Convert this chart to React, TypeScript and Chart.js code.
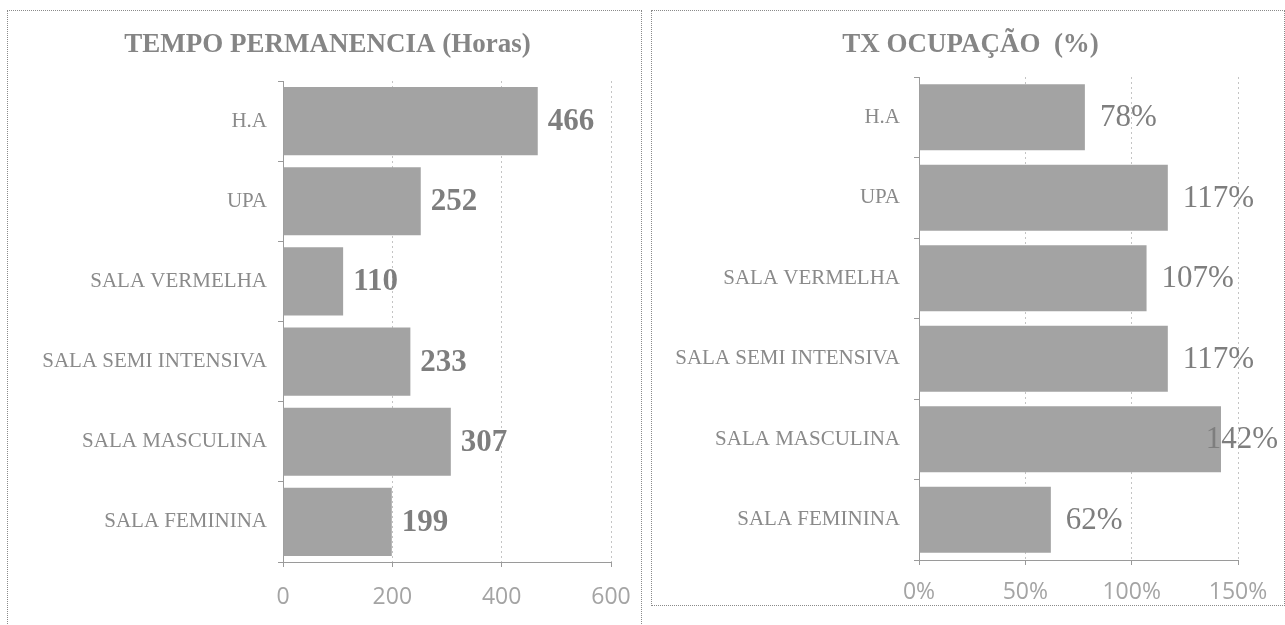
import React, { useEffect, useRef } from "react";
import { Chart, registerables } from "chart.js";

Chart.register(...registerables);

const categories = [
  "H.A",
  "UPA",
  "SALA VERMELHA",
  "SALA SEMI INTENSIVA",
  "SALA MASCULINA",
  "SALA FEMININA",
];
const tempoValues = [466, 252, 110, 233, 307, 199];
const ocupacaoValues = [78, 117, 107, 117, 142, 62];
const tempoTitle = "TEMPO PERMANENCIA (Horas)";
const ocupacaoTitle = "TX OCUPAÇÃO  (%)";
const tempoTicks = { min: 0, max: 600, step: 200 };
const ocupacaoTicks = { min: 0, max: 150, step: 50 };

const valueLabelPlugin = {
  id: "valueLabels",
  afterDatasetsDraw(chart: any, _args: any, opts: any) {
    const { ctx } = chart;
    const meta = chart.getDatasetMeta(0);
    const data = chart.data.datasets[0].data;
    ctx.save();
    ctx.font = opts.font;
    ctx.fillStyle = opts.color;
    ctx.textBaseline = "middle";
    ctx.textAlign = "left";
    meta.data.forEach((bar: any, i: number) => {
      const text = opts.format(data[i]);
      const w = ctx.measureText(text).width;
      let x = bar.x + opts.offset;
      if (x + w > chart.width - opts.edge) x = chart.width - opts.edge - w;
      ctx.fillText(text, x, bar.y + (opts.dy || 0));
    });
    ctx.restore();
  },
};

const centeredTitlePlugin = {
  id: "centeredTitle",
  afterDraw(chart: any, _args: any, opts: any) {
    const { ctx } = chart;
    ctx.save();
    ctx.font = opts.font;
    ctx.fillStyle = opts.color;
    ctx.textAlign = "center";
    ctx.textBaseline = "middle";
    ctx.fillText(opts.text, chart.width / 2 + opts.dx, opts.y);
    ctx.restore();
  },
};

type PanelCfg = {
  title: string;
  values: number[];
  ticks: { min: number; max: number; step: number };
  tickFmt: (v: number) => string;
  valueFmt: (v: number) => string;
  valueFont: string;
  valueOffset: number;
  yWidth: number;
  xHeight: number;
  padRight: number;
  padTop: number;
  yPad: number;
  xPad: number;
  xLineHeight: number;
  barPct: number;
};

function HBar({ cfg, style }: { cfg: PanelCfg; style: React.CSSProperties }) {
  const ref = useRef<HTMLCanvasElement | null>(null);
  useEffect(() => {
    if (!ref.current) return;
    const chart = new Chart(ref.current, {
      type: "bar",
      data: {
        labels: categories,
        datasets: [
          {
            data: cfg.values,
            backgroundColor: "#a3a3a3",
            borderWidth: 0,
            categoryPercentage: 1,
            barPercentage: cfg.barPct,
          },
        ],
      },
      plugins: [valueLabelPlugin as any, centeredTitlePlugin as any],
      options: {
        indexAxis: "y",
        animation: false,
        responsive: true,
        maintainAspectRatio: false,
        layout: { padding: { left: 0, right: cfg.padRight, top: cfg.padTop, bottom: 0 } },
        plugins: {
          legend: { display: false },
          tooltip: { enabled: false },
          title: { display: false },
          centeredTitle: {
            text: cfg.title,
            font: "bold 27px 'Liberation Serif', serif",
            color: "#858585",
            dx: 2,
            y: 34,
          },
          valueLabels: {
            font: cfg.valueFont,
            color: "#7e7e7e",
            offset: cfg.valueOffset,
            edge: 7,
            dy: 1,
            format: cfg.valueFmt,
          },
        } as any,
        scales: {
          x: {
            min: cfg.ticks.min,
            max: cfg.ticks.max,
            ticks: {
              stepSize: cfg.ticks.step,
              color: "#a4a4a4",
              padding: cfg.xPad,
              font: { family: "'Open Sans', sans-serif", size: 23, lineHeight: cfg.xLineHeight },
              callback: (v: any) => cfg.tickFmt(Number(v)),
            },
            grid: {
              color: "#c4c4c4",
              lineWidth: 1,
              drawTicks: true,
              tickLength: 5,
              tickColor: "#9a9a9a",
            },
            border: { display: true, color: "#9a9a9a", width: 1, dash: [2, 3] },
            afterFit: (scale: any) => {
              scale.height = cfg.xHeight;
            },
          } as any,
          y: {
            ticks: {
              color: "#8a8a8a",
              padding: cfg.yPad,
              font: { family: "'Liberation Serif', serif", size: 21 },
            },
            grid: {
              drawOnChartArea: false,
              drawTicks: true,
              tickLength: 5,
              color: "#9a9a9a",
              tickColor: "#9a9a9a",
            },
            border: { display: true, color: "#9a9a9a", width: 1 },
            afterFit: (scale: any) => {
              scale.width = cfg.yWidth;
            },
          } as any,
        },
      },
    });
    return () => chart.destroy();
  }, [cfg]);
  return (
    <div style={{ position: "absolute", ...style }}>
      <canvas ref={ref} />
    </div>
  );
}

const leftCfg: PanelCfg = {
  title: tempoTitle,
  values: tempoValues,
  ticks: tempoTicks,
  tickFmt: (v) => String(v),
  valueFmt: (v) => String(v),
  valueFont: "bold 31px 'Liberation Serif', serif",
  valueOffset: 10,
  yWidth: 275,
  xHeight: 63,
  padRight: 32,
  padTop: 70,
  yPad: 11,
  xPad: 12,
  xLineHeight: 1.6,
  barPct: 0.85,
};

const rightCfg: PanelCfg = {
  title: ocupacaoTitle,
  values: ocupacaoValues,
  ticks: ocupacaoTicks,
  tickFmt: (v) => `${v}%`,
  valueFmt: (v) => `${v}%`,
  valueFont: "31px 'Liberation Serif', serif",
  valueOffset: 15,
  yWidth: 267,
  xHeight: 45,
  padRight: 47,
  padTop: 66,
  yPad: 14,
  xPad: 14,
  xLineHeight: 1.2,
  barPct: 0.82,
};

export default function App() {
  return (
    <div
      style={{
        position: "absolute",
        left: 0,
        top: 0,
        width: 1285,
        height: 625,
        background: "#ffffff",
        overflow: "hidden",
      }}
    >
      <div
        style={{
          position: "absolute",
          left: 7,
          top: 10,
          width: 635,
          height: 640,
          border: "1px dotted #8a8a8a",
          boxSizing: "border-box",
        }}
      />
      <div
        style={{
          position: "absolute",
          left: 651,
          top: 10,
          width: 634,
          height: 596,
          border: "1px dotted #8a8a8a",
          boxSizing: "border-box",
        }}
      />
      <HBar cfg={leftCfg} style={{ left: 8, top: 11, width: 635, height: 614 }} />
      <HBar cfg={rightCfg} style={{ left: 652, top: 11, width: 633, height: 594 }} />
    </div>
  );
}
